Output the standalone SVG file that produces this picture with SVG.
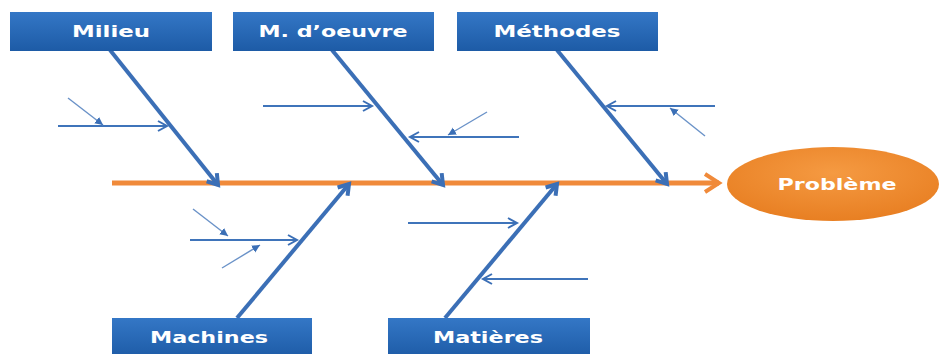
<svg xmlns="http://www.w3.org/2000/svg" width="942" height="354" viewBox="0 0 942 354">
<defs>
<linearGradient id="boxg" x1="0" y1="0" x2="0" y2="1">
<stop offset="0" stop-color="#3477C6"/>
<stop offset="1" stop-color="#1D5BA6"/>
</linearGradient>
<radialGradient id="ellg" cx="0.5" cy="0.35" r="0.7">
<stop offset="0" stop-color="#F59A42"/>
<stop offset="1" stop-color="#E77D20"/>
</radialGradient>
<marker id="bone" markerUnits="userSpaceOnUse" markerWidth="18" markerHeight="18" refX="13" refY="8" orient="auto" viewBox="0 0 18 16">
<path d="M3,1.5 L13,8 L3,14.5" fill="none" stroke="#3B6FB6" stroke-width="4"/>
</marker>
<marker id="open" markerUnits="userSpaceOnUse" markerWidth="14" markerHeight="14" refX="10" refY="6" orient="auto" viewBox="0 0 14 12">
<path d="M1,1 L10,6 L1,11" fill="none" stroke="#3B6FB6" stroke-width="2"/>
</marker>
<marker id="small" markerUnits="userSpaceOnUse" markerWidth="10" markerHeight="10" refX="8" refY="4" orient="auto" viewBox="0 0 10 8">
<path d="M0,0 L8,4 L0,8 Z" fill="#3B6FB6"/>
</marker>
<marker id="spinehead" markerUnits="userSpaceOnUse" markerWidth="22" markerHeight="24" refX="16" refY="11" orient="auto" viewBox="0 0 22 22">
<path d="M2,2 L16,11 L2,20" fill="none" stroke="#F08A3A" stroke-width="4"/>
</marker>
<style>
.box{fill:url(#boxg);}
.lbl{font-family:"DejaVu Sans",Verdana,sans-serif;font-weight:bold;font-size:16px;fill:#FFFFFF;}
.bone{stroke:#3B6FB6;stroke-width:4;fill:none;marker-end:url(#bone);}
.sub{stroke:#3F74BA;stroke-width:2;fill:none;marker-end:url(#open);}
.tiny{stroke:#6A92C8;stroke-width:1.4;fill:none;marker-end:url(#small);}
</style>
</defs>
<rect width="942" height="354" fill="#FFFFFF"/>

<g id="connectors">
<line x1="112" y1="183" x2="719" y2="183" stroke="#F08A3A" stroke-width="5" marker-end="url(#spinehead)"/>
<line class="bone" x1="110" y1="50" x2="218" y2="185"/>
<line class="bone" x1="332" y1="50" x2="443" y2="185"/>
<line class="bone" x1="557" y1="50" x2="667" y2="184"/>
<line class="bone" x1="237" y1="318" x2="349" y2="184"/>
<line class="bone" x1="445" y1="318" x2="557" y2="184"/>
<line class="sub" x1="58" y1="126" x2="167" y2="126"/>
<line class="tiny" x1="68" y1="98" x2="103" y2="125"/>
<line class="sub" x1="263" y1="106" x2="372" y2="106"/>
<line class="sub" x1="519" y1="137" x2="410" y2="137"/>
<line class="tiny" x1="487" y1="112" x2="448" y2="135"/>
<line class="sub" x1="715" y1="106" x2="607" y2="106"/>
<line class="tiny" x1="705" y1="136" x2="670" y2="108"/>
<line class="sub" x1="190" y1="240" x2="297" y2="240"/>
<line class="tiny" x1="193" y1="209" x2="228" y2="236"/>
<line class="tiny" x1="222" y1="268" x2="260" y2="245"/>
<line class="sub" x1="408" y1="223" x2="517" y2="223"/>
<line class="sub" x1="588" y1="279" x2="483" y2="279"/>
</g>

<g id="milieu">
<rect class="box" x="10" y="12" width="202" height="39"/>
<text class="lbl" x="111" y="37" text-anchor="middle" textLength="78" lengthAdjust="spacingAndGlyphs">Milieu</text>
</g>
<g id="main-oeuvre">
<rect class="box" x="233" y="12" width="201" height="39"/>
<text class="lbl" x="333" y="37" text-anchor="middle" textLength="149" lengthAdjust="spacingAndGlyphs">M. d’oeuvre</text>
</g>
<g id="methodes">
<rect class="box" x="457" y="12" width="201" height="39"/>
<text class="lbl" x="557" y="37" text-anchor="middle" textLength="127" lengthAdjust="spacingAndGlyphs">Méthodes</text>
</g>
<g id="machines">
<rect class="box" x="112" y="318" width="200" height="40"/>
<text class="lbl" x="209" y="343" text-anchor="middle" textLength="118" lengthAdjust="spacingAndGlyphs">Machines</text>
</g>
<g id="matieres">
<rect class="box" x="388" y="318" width="202" height="40"/>
<text class="lbl" x="488" y="343" text-anchor="middle" textLength="110" lengthAdjust="spacingAndGlyphs">Matières</text>
</g>
<g id="probleme">
<ellipse cx="833" cy="184" rx="106" ry="37" fill="url(#ellg)"/>
<text class="lbl" x="837" y="190" text-anchor="middle" textLength="119" lengthAdjust="spacingAndGlyphs">Problème</text>
</g>
</svg>
